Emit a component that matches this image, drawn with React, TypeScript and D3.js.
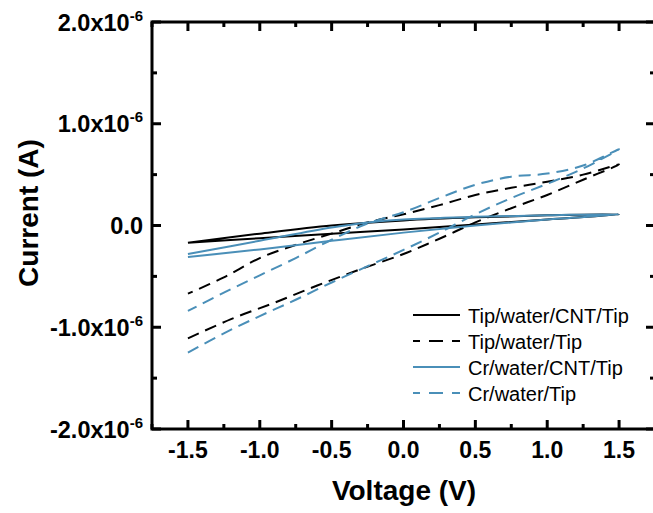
import React, { useEffect, useRef } from 'react';
import * as d3 from 'd3';

// I-V loops, current in units of 1e-6 A (forward sweep then reverse sweep)
const tipCntV = [-1.5, -1.0, -0.5, 0, 0.5, 1.0, 1.5, 1.0, 0.5, 0, -0.5, -1.0, -1.5];
const tipCntI = [-0.17, -0.125, -0.08, -0.04, 0.01, 0.06, 0.11, 0.1, 0.08, 0.05, 0.0, -0.08, -0.17];

const tipWaterV = [-1.5, -1.2, -0.9, -0.6, -0.3, 0, 0.25, 0.5, 0.75, 1.0, 1.25, 1.5,
  1.25, 1.0, 0.75, 0.5, 0.25, 0, -0.25, -0.5, -0.75, -1.0, -1.25, -1.5];
const tipWaterI = [-1.11, -0.92, -0.76, -0.59, -0.43, -0.28, -0.13, 0.03, 0.17, 0.3, 0.45, 0.6,
  0.5, 0.43, 0.37, 0.3, 0.2, 0.11, 0.03, -0.08, -0.19, -0.32, -0.51, -0.67];

const crCntV = [-1.5, -1.0, -0.5, 0, 0.5, 1.0, 1.5, 1.0, 0.5, 0, -0.25, -0.5, -1.0, -1.5];
const crCntI = [-0.31, -0.235, -0.15, -0.07, 0.0, 0.06, 0.11, 0.1, 0.085, 0.06, 0.03, -0.02, -0.15, -0.28];

const crWaterV = [-1.5, -1.25, -1.0, -0.75, -0.5, -0.25, 0, 0.25, 0.5, 0.75, 1.0, 1.25, 1.5,
  1.25, 1.0, 0.75, 0.5, 0.25, 0, -0.25, -0.5, -0.75, -1.0, -1.25, -1.5];
const crWaterI = [-1.25, -1.06, -0.89, -0.73, -0.56, -0.4, -0.24, -0.07, 0.11, 0.27, 0.41, 0.56, 0.75,
  0.59, 0.51, 0.48, 0.4, 0.27, 0.13, 0.02, -0.14, -0.32, -0.49, -0.66, -0.84];

const seriesNames = ['Tip/water/CNT/Tip', 'Tip/water/Tip', 'Cr/water/CNT/Tip', 'Cr/water/Tip'];
const xTicks = [-1.5, -1.0, -0.5, 0.0, 0.5, 1.0, 1.5];
const yTicks = [-2, -1, 0, 1, 2];
const yTickLabels = ['-2.0x10', '-1.0x10', '0.0', '1.0x10', '2.0x10'];

const FONT = "Arial, 'Liberation Sans', sans-serif";
const BLUE = '#4a8fb8';

export default function App() {
  const ref = useRef<SVGSVGElement>(null);

  useEffect(() => {
    const width = 653;
    const height = 513;
    const left = 152, right = 655, top = 22, bottom = 429;

    const svg = d3.select(ref.current)
      .attr('width', width)
      .attr('height', height);
    svg.selectAll('*').remove();

    svg.append('rect').attr('width', width).attr('height', height).attr('fill', '#fff');

    const x = d3.scaleLinear().domain([-1.75, 1.75]).range([left, right]);
    const y = d3.scaleLinear().domain([-2, 2]).range([bottom, top]);

    const series = [
      { v: tipCntV, i: tipCntI, color: '#000', dash: null },
      { v: tipWaterV, i: tipWaterI, color: '#000', dash: '12,7' },
      { v: crCntV, i: crCntI, color: BLUE, dash: null },
      { v: crWaterV, i: crWaterI, color: BLUE, dash: '12,7' },
    ];

    const line = d3.line<[number, number]>()
      .x(d => x(d[0]))
      .y(d => y(d[1]))
      .curve(d3.curveCatmullRom.alpha(0.5));

    const plot = svg.append('g');
    series.forEach(s => {
      const pts = s.v.map((v, k) => [v, s.i[k]] as [number, number]);
      plot.append('path')
        .attr('d', line(pts))
        .attr('fill', 'none')
        .attr('stroke', s.color)
        .attr('stroke-width', 2)
        .attr('stroke-dasharray', s.dash);
    });

    // Frame
    const axW = 3;
    svg.append('rect')
      .attr('x', left).attr('y', top)
      .attr('width', right - left).attr('height', bottom - top)
      .attr('fill', 'none').attr('stroke', '#000').attr('stroke-width', axW);

    // ticks point inward on all four sides
    const ticks = svg.append('g');
    const tick = (x1: number, y1: number, x2: number, y2: number) =>
      ticks.append('line')
        .attr('x1', x1).attr('y1', y1).attr('x2', x2).attr('y2', y2)
        .attr('stroke', '#000').attr('stroke-width', axW);

    d3.range(-1.75, 1.76, 0.25).forEach(v => {
      const major = xTicks.some(t => Math.abs(t - v) < 1e-6);
      const len = major ? 9 : 5;
      tick(x(v), bottom, x(v), bottom - len);
      tick(x(v), top, x(v), top + len);
    });
    d3.range(-2, 2.01, 0.5).forEach(v => {
      const major = yTicks.some(t => Math.abs(t - v) < 1e-6);
      const len = major ? 9 : 5;
      tick(left, y(v), left + len, y(v));
      tick(right, y(v), right - len, y(v));
    });

    // X tick labels
    svg.append('g').selectAll('text')
      .data(xTicks)
      .join('text')
      .attr('x', d => x(d))
      .attr('y', 458)
      .attr('text-anchor', 'middle')
      .attr('font-family', FONT)
      .attr('font-weight', 'bold')
      .attr('font-size', 23)
      .text(d => d.toFixed(1));

    // Y tick labels with superscript exponent
    yTicks.forEach((t, k) => {
      const txt = svg.append('text')
        .attr('x', 143)
        .attr('y', y(t) + 8.5)
        .attr('text-anchor', 'end')
        .attr('font-family', FONT)
        .attr('font-weight', 'bold')
        .attr('font-size', 23.5);
      txt.append('tspan').text(yTickLabels[k]);
      if (t !== 0) {
        txt.append('tspan').attr('font-size', 15).attr('dy', -10).text('-6');
      }
    });

    // Axis titles
    svg.append('text')
      .attr('x', 404)
      .attr('y', 500)
      .attr('text-anchor', 'middle')
      .attr('font-family', FONT)
      .attr('font-weight', 'bold')
      .attr('font-size', 28)
      .text('Voltage (V)');

    svg.append('text')
      .attr('transform', 'translate(38, 213) rotate(-90)')
      .attr('text-anchor', 'middle')
      .attr('font-family', FONT)
      .attr('font-weight', 'bold')
      .attr('font-size', 28)
      .text('Current (A)');

    // Legend
    const legend = svg.append('g');
    series.forEach((s, k) => {
      const ly = 315 + k * 26;
      legend.append('line')
        .attr('x1', 413).attr('x2', 460)
        .attr('y1', ly).attr('y2', ly)
        .attr('stroke', s.color)
        .attr('stroke-width', 2)
        .attr('stroke-dasharray', s.dash ? '14,9' : null)
        .attr('stroke-dashoffset', s.dash ? 7 : null);
      legend.append('text')
        .attr('x', 468)
        .attr('y', ly + 7.5)
        .attr('font-family', FONT)
        .attr('font-size', 20)
        .text(seriesNames[k]);
    });
  }, []);

  return <svg ref={ref} style={{ position: 'absolute', left: 0, top: 0 }}></svg>;
}
